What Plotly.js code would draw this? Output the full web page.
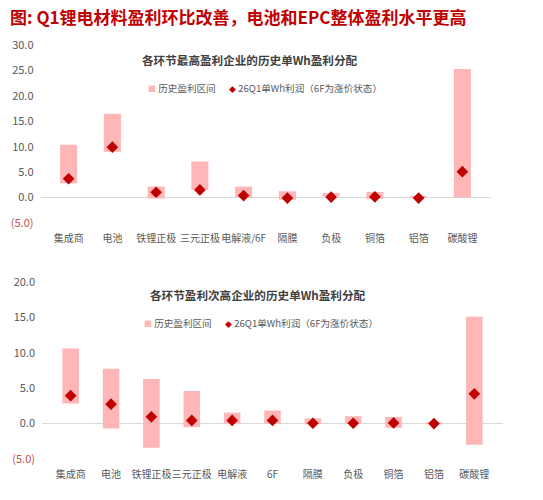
<!DOCTYPE html>
<html>
<head>
<meta charset="utf-8">
<script src="https://cdn.plot.ly/plotly-3.0.1.min.js"></script>
<style>
  html, body { margin: 0; padding: 0; background: #fff; }
  #chart { width: 543px; height: 500px; }
</style>
</head>
<body>
<div id="chart"></div>
<script>
// top panel: best-earning company per segment
const topCats = ['集成商', '电池', '铁锂正极', '三元正极', '电解液/6F', '隔膜', '负极', '铜箔', '铝箔', '碳酸锂'];
const topLow  = [2.8, 9.0, -0.2, 1.5, 0.0, -0.45, 0.2, -0.3, -0.1, 0.0];
const topHigh = [10.4, 16.5, 2.2, 7.1, 2.2, 1.25, 0.9, 1.1, 0.3, 25.3];
const topNow  = [3.7, 9.9, 1.05, 1.5, 0.4, -0.1, 0.1, 0.15, -0.1, 5.1];

// bottom panel: second-best company per segment
const botCats = ['集成商', '电池', '铁锂正极', '三元正极', '电解液', '6F', '隔膜', '负极', '铜箔', '铝箔', '碳酸锂'];
const botLow  = [2.85, -0.7, -3.4, -0.5, 0.0, 0.0, -0.1, 0.0, -0.6, -0.1, -3.0];
const botHigh = [10.6, 7.75, 6.3, 4.6, 1.55, 1.85, 0.75, 1.05, 0.95, 0.2, 15.1];
const botNow  = [3.95, 2.75, 0.95, 0.45, 0.45, 0.45, 0.05, 0.05, 0.1, 0.0, 4.2];

const topTicks = [30, 25, 20, 15, 10, 5, 0, -5];
const botTicks = [20, 15, 10, 5, 0, -5];

const RANGE_NAME = '历史盈利区间';
const NOW_NAME = '26Q1单Wh利润（6F为涨价状态）';

const PINK = '#FFB6B6';
const RED = '#C00000';
const GREY = '#595959';
const FONT = '"Noto Sans CJK SC", "Noto Sans", sans-serif';

const fmt = v => v < 0 ? '<span style="color:#C0504D">(' + Math.abs(v).toFixed(1) + ')</span>' : v.toFixed(1);

function panel(cats, low, high, now, xa, ya, w) {
  return [
    {
      type: 'bar', x: cats, base: low, y: high.map((h, i) => h - low[i]),
      marker: { color: PINK }, width: w, name: RANGE_NAME,
      xaxis: xa, yaxis: ya, hoverinfo: 'skip'
    },
    {
      type: 'scatter', mode: 'markers', x: cats, y: now, name: NOW_NAME,
      marker: { symbol: 'diamond', color: RED, size: 9 },
      xaxis: xa, yaxis: ya
    }
  ];
}

const data = [
  ...panel(topCats, topLow, topHigh, topNow, 'x', 'y', 0.39),
  ...panel(botCats, botLow, botHigh, botNow, 'x2', 'y2', 0.41)
];

const yBase = {
  showgrid: false, zeroline: true, zerolinecolor: '#D9D9D9', zerolinewidth: 1,
  showline: false, ticks: '', tickfont: { size: 11, color: GREY, family: FONT },
  tickmode: 'array', ticklabelstandoff: 6, fixedrange: true
};
const xBase = {
  showgrid: false, zeroline: false, showline: false, ticks: '', tickangle: 0,
  tickfont: { size: 10, color: GREY, family: FONT }, fixedrange: true, ticklabelstandoff: 8
};

// small legend rows drawn as text (symbol glyph + label)
function legendRow(cx, cy) {
  const f = { size: 9.6, color: GREY, family: FONT };
  return [
    { text: '<span style="color:' + PINK + ';font-size:8px">■</span> ' + RANGE_NAME,
      xref: 'paper', yref: 'paper', x: (cx - 118) / 543, y: 1 - cy / 500,
      xanchor: 'left', yanchor: 'middle', showarrow: false, font: f },
    { text: '<span style="color:' + RED + ';font-size:7px">◆</span> ' + NOW_NAME,
      xref: 'paper', yref: 'paper', x: (cx - 37) / 543, y: 1 - cy / 500,
      xanchor: 'left', yanchor: 'middle', showarrow: false, font: f }
  ];
}

const layout = {
  width: 543, height: 500,
  margin: { l: 0, r: 0, t: 0, b: 0 },
  paper_bgcolor: '#fff', plot_bgcolor: '#fff',
  font: { family: FONT },
  showlegend: false,
  xaxis:  { ...xBase, domain: [40.5 / 543, 490.5 / 543], anchor: 'y' },
  yaxis:  { ...yBase, domain: [1 - 223 / 500, 1 - 45 / 500], range: [-5, 30], anchor: 'x',
            tickvals: topTicks, ticktext: topTicks.map(fmt) },
  xaxis2: { ...xBase, domain: [42 / 543, 503 / 543], anchor: 'y2' },
  yaxis2: { ...yBase, domain: [1 - 459 / 500, 1 - 282 / 500], range: [-5, 20], anchor: 'x2',
            tickvals: botTicks, ticktext: botTicks.map(fmt) },
  annotations: [
    { text: '<b>图: Q1锂电材料盈利环比改善，电池和EPC整体盈利水平更高</b>', xref: 'paper', yref: 'paper',
      x: 8 / 543, y: 1 - 16 / 500, xanchor: 'left', yanchor: 'middle', showarrow: false,
      font: { size: 17, color: RED, family: FONT } },
    { text: '<b>各环节最高盈利企业的历史单Wh盈利分配</b>', xref: 'paper', yref: 'paper',
      x: 250 / 543, y: 1 - 60 / 500, xanchor: 'center', yanchor: 'middle', showarrow: false,
      font: { size: 11.6, color: '#404040', family: FONT } },
    { text: '<b>各环节盈利次高企业的历史单Wh盈利分配</b>', xref: 'paper', yref: 'paper',
      x: 258 / 543, y: 1 - 295 / 500, xanchor: 'center', yanchor: 'middle', showarrow: false,
      font: { size: 11.6, color: '#404040', family: FONT } },
    ...legendRow(264, 88),
    ...legendRow(260, 323)
  ]
};

Plotly.newPlot('chart', data, layout, { displayModeBar: false, staticPlot: true });
</script>
</body>
</html>
